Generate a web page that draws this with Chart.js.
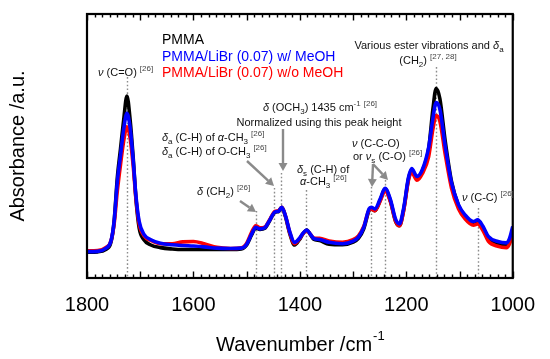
<!DOCTYPE html>
<html>
<head>
<meta charset="utf-8">
<script src="https://cdn.jsdelivr.net/npm/chart.js@4.4.0/dist/chart.umd.min.js"></script>
<style>
  html, body { margin: 0; padding: 0; background: #fff; }
  canvas { display: block; }
</style>
</head>
<body>
<canvas id="ftir" width="550" height="359"></canvas>
<script>
// Spectra (absorbance in arbitrary units, 0 = bottom of frame, 1 = top)
const wavenumbers = [1800, 1780, 1765, 1755, 1749, 1743, 1737, 1731, 1725, 1719, 1713, 1708, 1702, 1693, 1680,
  1662, 1640, 1620, 1600, 1580, 1556, 1530, 1510, 1500, 1491, 1483, 1475, 1466, 1457, 1447, 1440, 1434, 1427,
  1419, 1410, 1401, 1394, 1387, 1380, 1374, 1363, 1345, 1320, 1300, 1290, 1280, 1270, 1266, 1259, 1249, 1240,
  1230, 1220, 1213, 1205, 1196, 1190, 1180, 1170, 1158, 1150, 1144, 1137, 1127, 1115, 1102, 1090, 1074, 1066,
  1056, 1046, 1028, 1012, 1006, 1000];

const pmma = [0.098, 0.099, 0.108, 0.135, 0.215, 0.38, 0.49, 0.60, 0.689, 0.60, 0.45, 0.30, 0.19, 0.145, 0.125,
  0.115, 0.110, 0.108, 0.108, 0.108, 0.108, 0.108, 0.110, 0.125, 0.162, 0.190, 0.184, 0.188, 0.216, 0.249, 0.252, 0.268, 0.232,
  0.168, 0.125, 0.145, 0.168, 0.182, 0.163, 0.147, 0.142, 0.128, 0.126, 0.136, 0.150, 0.186, 0.256, 0.262, 0.255, 0.295, 0.338,
  0.292, 0.214, 0.198, 0.258, 0.375, 0.41, 0.378, 0.405, 0.49, 0.64, 0.718, 0.68, 0.52, 0.365, 0.275, 0.235, 0.208, 0.213,
  0.188, 0.150, 0.128, 0.123, 0.140, 0.180];

const withMeOH = [0.100, 0.101, 0.112, 0.140, 0.215, 0.365, 0.465, 0.565, 0.624, 0.570, 0.440, 0.310, 0.215, 0.165, 0.145,
  0.132, 0.126, 0.123, 0.121, 0.118, 0.113, 0.112, 0.113, 0.128, 0.165, 0.192, 0.186, 0.190, 0.218, 0.250, 0.253, 0.268, 0.235,
  0.175, 0.135, 0.150, 0.170, 0.182, 0.165, 0.150, 0.146, 0.135, 0.130, 0.140, 0.155, 0.192, 0.262, 0.268, 0.262, 0.300, 0.340,
  0.298, 0.222, 0.205, 0.265, 0.380, 0.415, 0.385, 0.410, 0.495, 0.605, 0.665, 0.640, 0.500, 0.360, 0.278, 0.240, 0.214, 0.220,
  0.196, 0.158, 0.138, 0.133, 0.150, 0.195];

const withoutMeOH = [0.103, 0.104, 0.115, 0.140, 0.205, 0.33, 0.43, 0.52, 0.573, 0.53, 0.42, 0.30, 0.205, 0.16, 0.142,
  0.130, 0.130, 0.137, 0.138, 0.130, 0.116, 0.112, 0.114, 0.132, 0.172, 0.198, 0.190, 0.193, 0.220, 0.252, 0.255, 0.268, 0.235,
  0.172, 0.130, 0.148, 0.168, 0.180, 0.165, 0.152, 0.150, 0.140, 0.135, 0.145, 0.160, 0.195, 0.258, 0.262, 0.255, 0.292, 0.330,
  0.290, 0.215, 0.198, 0.255, 0.370, 0.400, 0.370, 0.395, 0.460, 0.565, 0.615, 0.595, 0.470, 0.340, 0.262, 0.225, 0.200, 0.205,
  0.180, 0.140, 0.120, 0.115, 0.130, 0.170];

const seriesNames = ['PMMA', 'PMMA/LiBr (0.07) w/ MeOH', 'PMMA/LiBr (0.07) w/o MeOH'];
const xTicks = [1800, 1600, 1400, 1200, 1000];

// assigned bands (dotted guides) and how high each guide reaches
const bandWavenumbers = [1725, 1483, 1448, 1435, 1388, 1266, 1240, 1145, 1066];
const bandGuideTops = [0.761, 0.254, 0.341, 0.398, 0.333, 0.345, 0.371, 0.799, 0.265];

const FONT = '"Liberation Sans", Arial, sans-serif';

// annotation text: [text, kind] where kind is '' normal, 'i' italic, 'sub', 'sup'
const notes = [
  { x: 98, y: 72, align: 'left', parts: [['ν', 'i'], [' (C=O) '], ['[26]', 'sup']] },
  { x: 429, y: 45, align: 'center', parts: [['Various ester vibrations and '], ['δ', 'i'], ['a', 'sub']] },
  { x: 428, y: 60, align: 'center', parts: [['(CH'], ['2', 'sub'], [') '], ['[27, 28]', 'sup']] },
  { x: 320, y: 107, align: 'center', parts: [['δ', 'i'], [' (OCH'], ['3', 'sub'], [') 1435 cm'], ['-1', 'sup'], [' '], ['[26]', 'sup']] },
  { x: 319, y: 122, align: 'center', parts: [['Normalized using this peak height']] },
  { x: 162, y: 137, align: 'left', parts: [['δ', 'i'], ['a', 'sub'], [' (C-H) of '], ['α', 'i'], ['-CH'], ['3', 'sub'], [' '], ['[26]', 'sup']] },
  { x: 162, y: 151, align: 'left', parts: [['δ', 'i'], ['a', 'sub'], [' (C-H) of O-CH'], ['3', 'sub'], [' '], ['[26]', 'sup']] },
  { x: 197, y: 191, align: 'left', parts: [['δ', 'i'], [' (CH'], ['2', 'sub'], [') '], ['[26]', 'sup']] },
  { x: 297, y: 169, align: 'left', parts: [['δ', 'i'], ['s', 'sub'], [' (C-H) of']] },
  { x: 300, y: 181, align: 'left', parts: [['α', 'i'], ['-CH'], ['3', 'sub'], [' '], ['[26]', 'sup']] },
  { x: 352, y: 143, align: 'left', parts: [['ν', 'i'], [' (C-C-O)']] },
  { x: 353, y: 156, align: 'left', parts: [['or '], ['ν', 'i'], ['s', 'sub'], [' (C-O) '], ['[26]', 'sup']] },
  { x: 462, y: 197, align: 'left', parts: [['ν', 'i'], [' (C-C) '], ['[26]', 'sup']] }
];

// gray arrows: [x1, y1, x2, y2]
const arrows = [
  [240, 201, 256, 212],
  [247, 161, 274, 186],
  [283, 129, 283, 171],
  [373, 164, 372, 187],
  [373, 164, 388, 180]
];

function partFont(kind, size) {
  if (kind === 'i') return 'italic ' + size + 'px ' + FONT;
  if (kind === 'sub' || kind === 'sup') return Math.round(size * 0.7) + 'px ' + FONT;
  return size + 'px ' + FONT;
}

function drawRich(ctx, x, y, parts, align, size) {
  let total = 0;
  parts.forEach(p => { ctx.font = partFont(p[1], size); total += ctx.measureText(p[0]).width; });
  let cx = align === 'center' ? x - total / 2 : x;
  const base = y + size * 0.36;
  ctx.textAlign = 'left';
  ctx.textBaseline = 'alphabetic';
  parts.forEach(p => {
    const kind = p[1];
    ctx.font = partFont(kind, size);
    let dy = 0;
    ctx.fillStyle = '#111';
    if (kind === 'sub') dy = size * 0.28;
    if (kind === 'sup') { dy = -size * 0.42; ctx.fillStyle = '#444'; }
    ctx.fillText(p[0], cx, base + dy);
    cx += ctx.measureText(p[0]).width;
  });
}

function drawArrow(ctx, x1, y1, x2, y2) {
  const ang = Math.atan2(y2 - y1, x2 - x1);
  const head = 8, half = 4.5;
  const bx = x2 - head * Math.cos(ang), by = y2 - head * Math.sin(ang);
  ctx.strokeStyle = '#8a8a8a';
  ctx.fillStyle = '#8a8a8a';
  ctx.lineWidth = 2.4;
  ctx.beginPath();
  ctx.moveTo(x1, y1);
  ctx.lineTo(bx, by);
  ctx.stroke();
  ctx.beginPath();
  ctx.moveTo(x2, y2);
  ctx.lineTo(bx + half * Math.sin(ang), by - half * Math.cos(ang));
  ctx.lineTo(bx - half * Math.sin(ang), by + half * Math.cos(ang));
  ctx.closePath();
  ctx.fill();
}

const decor = {
  id: 'decor',
  beforeDatasetsDraw(chart) {
    const { ctx, chartArea, scales } = chart;
    ctx.save();
    ctx.strokeStyle = '#8c8c8c';
    ctx.lineWidth = 1.4;
    ctx.setLineDash([1.6, 2.2]);
    bandWavenumbers.forEach((wn, i) => {
      const px = Math.round(scales.x.getPixelForValue(wn)) + 0.5;
      ctx.beginPath();
      ctx.moveTo(px, scales.y.getPixelForValue(bandGuideTops[i]));
      ctx.lineTo(px, chartArea.bottom);
      ctx.stroke();
    });
    ctx.restore();
  },
  afterDraw(chart) {
    const { ctx, chartArea, scales } = chart;
    const { left, right, top, bottom } = chartArea;
    ctx.save();

    // tick marks, inward on top and bottom
    ctx.strokeStyle = '#000';
    ctx.lineWidth = 1.4;
    for (let k = 0; k <= 56; k++) {
      const wn = 1800 - k * 100 / 7;
      const px = Math.round(scales.x.getPixelForValue(wn)) + 0.5;
      const len = k % 7 === 0 ? 6.5 : 3.5;
      ctx.beginPath();
      ctx.moveTo(px, bottom);
      ctx.lineTo(px, bottom - len);
      ctx.moveTo(px, top);
      ctx.lineTo(px, top + len);
      ctx.stroke();
    }

    // frame
    ctx.lineWidth = 2.2;
    ctx.strokeRect(left, top, right - left, bottom - top);

    // legend
    ctx.font = '14px ' + FONT;
    ctx.textAlign = 'left';
    ctx.textBaseline = 'middle';
    const legendY = [40, 57, 73];
    chart.data.datasets.forEach((ds, i) => {
      ctx.fillStyle = ds.borderColor;
      ctx.fillText(ds.label, 162, legendY[i]);
    });

    // arrows and notes
    arrows.forEach(a => drawArrow(ctx, a[0], a[1], a[2], a[3]));
    notes.forEach(n => drawRich(ctx, n.x, n.y, n.parts, n.align, 11));

    // axis titles
    ctx.fillStyle = '#000';
    ctx.font = '20px ' + FONT;
    ctx.textBaseline = 'alphabetic';
    const xt = 'Wavenumber /cm';
    const w1 = ctx.measureText(xt).width;
    ctx.font = '13px ' + FONT;
    const w2 = ctx.measureText('-1').width;
    const sx = (left + right) / 2 - (w1 + w2) / 2;
    ctx.font = '20px ' + FONT;
    ctx.fillText(xt, sx, 351);
    ctx.font = '13px ' + FONT;
    ctx.fillText('-1', sx + w1 + 1, 340);

    ctx.translate(18, (top + bottom) / 2);
    ctx.rotate(-Math.PI / 2);
    ctx.font = '20px ' + FONT;
    ctx.textAlign = 'center';
    ctx.textBaseline = 'middle';
    ctx.fillText('Absorbance /a.u.', 0, 0);
    ctx.restore();
  }
};

function points(values) {
  return wavenumbers.map((wn, i) => ({ x: wn, y: values[i] }));
}

new Chart(document.getElementById('ftir').getContext('2d'), {
  type: 'line',
  data: {
    datasets: [
      { label: seriesNames[0], data: points(pmma), borderColor: '#000000', order: 2 },
      { label: seriesNames[1], data: points(withMeOH), borderColor: '#0000ff', order: 0 },
      { label: seriesNames[2], data: points(withoutMeOH), borderColor: '#ff0000', order: 1 }
    ]
  },
  options: {
    responsive: false,
    animation: false,
    devicePixelRatio: 1,
    layout: { padding: { left: 87, right: 34, top: 14, bottom: 0 } },
    elements: {
      line: { borderWidth: 3.6, cubicInterpolationMode: 'monotone', fill: false },
      point: { radius: 0 }
    },
    plugins: { legend: { display: false }, tooltip: { enabled: false } },
    scales: {
      x: {
        type: 'linear',
        min: 1000,
        max: 1800,
        reverse: true,
        afterFit(s) { s.height = 81; },
        afterBuildTicks(s) { s.ticks = xTicks.map(v => ({ value: v })); },
        grid: { display: false, drawTicks: false },
        border: { display: false },
        ticks: {
          color: '#000',
          font: { family: FONT, size: 20 },
          padding: 15,
          maxRotation: 0,
          autoSkip: false,
          callback: v => String(v)
        }
      },
      y: { display: false, min: 0, max: 1 }
    }
  },
  plugins: [decor]
});
</script>
</body>
</html>
